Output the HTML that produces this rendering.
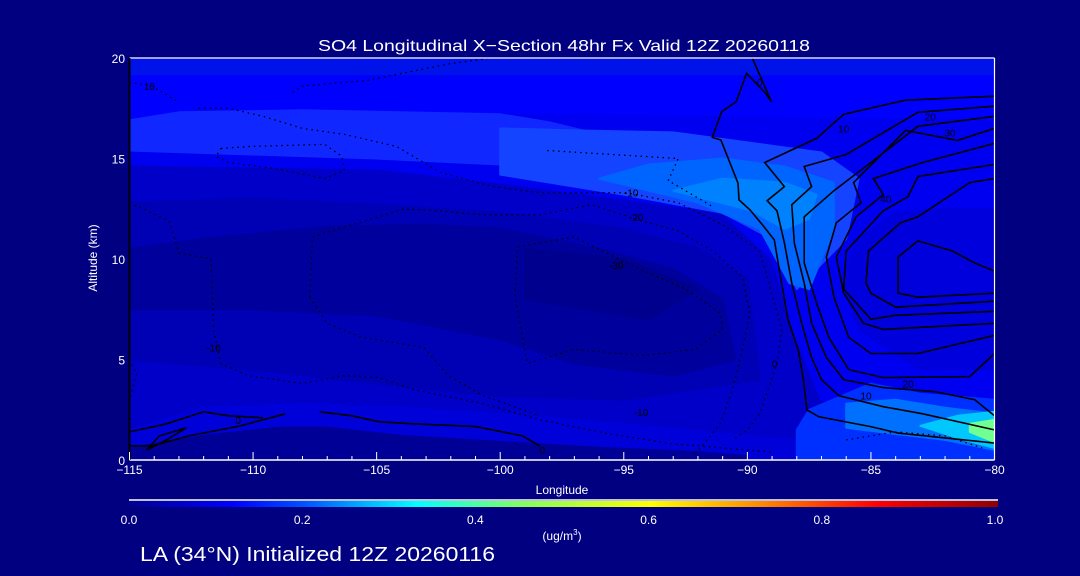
<!DOCTYPE html>
<html><head><meta charset="utf-8"><style>
html,body{margin:0;padding:0;background:#000080;width:1080px;height:576px;overflow:hidden}
svg{display:block}
text{font-family:"Liberation Sans",sans-serif;fill:#fff}
</style></head><body>
<svg id="c" width="1080" height="576" xmlns="http://www.w3.org/2000/svg">
<defs>
<linearGradient id="cb" x1="0" x2="1" y1="0" y2="0">
<stop offset="0" stop-color="#000090"/><stop offset="0.12" stop-color="#0000ff"/><stop offset="0.2" stop-color="#0050ff"/>
<stop offset="0.33" stop-color="#00ffff"/><stop offset="0.45" stop-color="#80ff60"/><stop offset="0.6" stop-color="#ffff00"/>
<stop offset="0.72" stop-color="#ff9000"/><stop offset="0.86" stop-color="#ff0000"/><stop offset="1" stop-color="#900000"/>
</linearGradient>
<clipPath id="pc"><rect x="129.5" y="58" width="865" height="402"/></clipPath>
</defs>
<text x="318" y="51" font-size="16" textLength="492" lengthAdjust="spacingAndGlyphs">SO4 Longitudinal X−Section 48hr  Fx Valid 12Z 20260118</text>
<g id="fills" clip-path="url(#pc)"></g>
<g id="contours" clip-path="url(#pc)"></g>
<g id="axes"></g>
<text x="562" y="494" font-size="12" text-anchor="middle">Longitude</text>
<text transform="translate(97,258) rotate(-90)" font-size="12" text-anchor="middle">Altitude (km)</text>
<line x1="129" y1="500" x2="998" y2="500" stroke="#fff" stroke-width="1.5"/>
<rect x="129" y="501" width="869" height="6" fill="url(#cb)"/>
<g id="cbl"></g>
<text x="562" y="540" font-size="12" text-anchor="middle">(ug/m<tspan font-size="8" dy="-5">3</tspan><tspan dy="5">)</tspan></text>
<text x="140" y="561" font-size="20" textLength="355" lengthAdjust="spacingAndGlyphs">LA (34°N) Initialized 12Z 20260116</text>
</svg>
<script>
const xTicks=[-115,-110,-105,-100,-95,-90,-85,-80];
const yTicks=[0,5,10,15,20];
const cbTicks=[0.0,0.2,0.4,0.6,0.8,1.0];
const fillColors=['#0000c8','#0000f0','#0000ff','#0012ea','#1028ff','#1444ff','#0064ff','#0082ff','#0000dc','#0000b4','#00009c','#00008e','#0000d8','#000096','#0030ff','#0070ff','#00c8ff','#70ff90'];
const fillShapes=[
[[-115,0],[-80,0],[-80,20],[-115,20]],
[[-115,20],[-80,20],[-80,2],[-84,2.5],[-87,3],[-88,6],[-89,10],[-91,12.3],[-95,13],[-100,13.8],[-105,14.5],[-115,14.7]],
[[-115,19.2],[-80,19.2],[-80,17],[-100,17.3],[-115,16.8]],
[[-115,20],[-80,20],[-80,19.2],[-115,19.2]],
[[-115,16.9],[-113,17.3],[-108,17.4],[-100,17.2],[-98,16.8],[-96,16.2],[-97,14.8],[-100,14.7],[-105,15],[-115,15.4]],
[[-100,16.5],[-97,16.4],[-93,16.3],[-90,15.8],[-87,15.3],[-85.5,14],[-86,11],[-88,8.5],[-89,11],[-91,12.3],[-95,13.2],[-100,14.2]],
[[-96,14],[-94,14.7],[-91,15],[-88.5,14.6],[-86.5,13.8],[-86.5,11.5],[-87.5,8.5],[-88.3,8.8],[-89.5,11.5],[-92,12.8]],
[[-93,13.4],[-91,14],[-88.5,13.8],[-87.2,13.2],[-87.5,12],[-88.5,11.5],[-89.8,12.4]],
[[-85.5,11],[-84,12.3],[-82,12.5],[-80,12.5],[-80,4.5],[-83,4.5],[-85.5,6.5],[-86.2,9]],
[[-115,12.8],[-110,13],[-105,12.7],[-100,12.3],[-95,11.5],[-92,10.5],[-90,9],[-89.5,4],[-95,3],[-100,3.2],[-105,3.8],[-110,4.5],[-115,5]],
[[-115,10.5],[-112,11],[-107,11.6],[-103,11.7],[-100,11.5],[-96,10.5],[-93,9.5],[-91,8],[-90.5,5],[-93,4.2],[-97,4.8],[-100,6],[-105,7.2],[-110,7.5],[-115,7.5]],
[[-99,10.5],[-95,10],[-92,8.5],[-94,7],[-99,8]],
[[-115,1.5],[-112,2.6],[-108,2.8],[-104,2.6],[-100,2.3],[-95,1.8],[-90,1.2],[-88,1],[-88,0],[-115,0]],
[[-115,0],[-115,0.6],[-112,1.2],[-109,1.6],[-107,1.6],[-104,1.2],[-100,0.9],[-96,0.6],[-92,0.4],[-90,0.2],[-90,0]],
[[-87.5,2.5],[-85,3.8],[-83,3.3],[-80,3],[-80,0],[-88,0],[-88,1.5]],
[[-86,2.8],[-84,3],[-82,2.6],[-80,2.3],[-80,0.5],[-82,1],[-84,1.3],[-86,1.6]],
[[-83,1.7],[-81.5,2.2],[-80,2.4],[-80,0.6],[-81.5,1.1]],
[[-81,1.8],[-80,2],[-80,0.9],[-81,1.4]]
];
const solidLines=[
[[-89.79,19.98],[-89.03,17.83],[-89.3,18.3],[-90.03,19.24],[-90.45,17.83],[-91.04,17.33],[-91.42,16.05],[-91.07,15.92],[-90.38,13.77],[-90.34,12.94],[-89.89,12.44],[-89.33,11.61],[-88.91,10.95],[-88.64,8.96],[-88.35,6.97],[-87.94,5.47],[-87.73,3.98],[-87.59,2.49],[-87.1,2.15],[-85.01,1.66],[-83.9,1.34],[-80,0.84]],
[[-80,18.1],[-83.6,17.9],[-86.1,17.2],[-87.2,16],[-89.3,14.8],[-88.5,13.6],[-89.2,12.9],[-88.8,12.4],[-88.5,10.8],[-88.2,8.8],[-87.8,6.8],[-87.4,5.1],[-87,4],[-86.3,3.2],[-84.5,2.65],[-82.9,2.3],[-80,1.5]],
[[-80,17.6],[-83.1,17.3],[-86,15.2],[-87.7,14.6],[-87.4,13.6],[-88.2,12.7],[-88.1,10.8],[-87.7,8.8],[-87.4,6.8],[-86.8,5.1],[-86.1,4],[-84.5,3.6],[-82.4,3.4],[-80.8,3],[-80,2.2]],
[[-80,17.1],[-83.1,16.6],[-85,14.8],[-86.5,13.4],[-87.7,12.1],[-87.7,9.8],[-87.2,7.8],[-86.7,6.1],[-85.9,4.5],[-84.5,4.1],[-81,4.15],[-80,5.3]],
[[-80,16.5],[-81.5,15.9],[-83.6,16.4],[-85.7,13.8],[-85.4,12.8],[-86.4,11.8],[-86.8,10.1],[-86.5,8.1],[-85.9,6.1],[-85,5.3],[-83.1,5.3],[-80,6.2]],
[[-80,15.75],[-82.9,14.8],[-84.9,14],[-84.5,13.2],[-85.6,12.1],[-86.4,10.1],[-86.1,8.3],[-85.3,6.8],[-84.5,6.5],[-80,6.8]],
[[-80,14.7],[-82.1,14.3],[-83.1,14.1],[-83.5,13.1],[-84.5,12.4],[-86,10.4],[-86.1,8.5],[-85,7],[-84,7.2],[-80,7.4]],
[[-80,14],[-81,13.8],[-83.1,12.1],[-83.8,11.8],[-85.1,10.4],[-85.2,8.8],[-85,8.3],[-84,7.6],[-80,7.9]],
[[-83.1,10.9],[-83.9,10.1],[-83.9,8.3],[-83.1,8.1],[-80,8.3],[-80,9.4],[-80.8,9.8],[-81.7,10.4],[-83.1,10.9]],
[[-115,1.4],[-113.5,1.8],[-112,2.4],[-111,2.2],[-109.6,2.1]],
[[-115,0.7],[-114.1,0.7],[-112.6,1.2],[-110.5,1.7],[-108.7,2.3]],
[[-107.3,2.4],[-106,2.2],[-104.9,1.9],[-103.5,1.8],[-101,1.66],[-99.1,1.2],[-98.4,0.7]],
[[-114.3,0.5],[-113.8,1.2],[-112.7,1.6],[-113.5,1.0],[-114.3,0.5]]
];
const dottedLines=[
[[-115,18.8],[-114.1,18.6],[-113,17.8]],
[[-112.2,17.5],[-111,17.5],[-109.6,17.1],[-108,16.5],[-106.3,16.2],[-104.2,15.6],[-102.4,14.3],[-100.3,13.6],[-98.4,13.3],[-94.9,13.3],[-92.8,12.8],[-91,11.7],[-89.5,10.4],[-88.6,6.5],[-88.8,4.8],[-89.5,2.3],[-90,1.5],[-90.6,1]],
[[-108.4,18.3],[-108,18.6],[-105.3,18.9],[-102.1,19.7],[-100.4,20]],
[[-111.3,15.5],[-110.1,15.6],[-107.1,15.7],[-106.4,15.1],[-106.3,14.4],[-107.1,14],[-109.1,14.5],[-111,14.8],[-111.5,15.1],[-111.3,15.5]],
[[-98.1,15.4],[-92.8,15],[-93.2,13.9],[-91.4,12.6]],
[[-115,12.8],[-113.4,11.9],[-113,10.3],[-111.7,10],[-111.6,6.5],[-111.3,4.8],[-110.2,4.2],[-108,3.8],[-106.3,4.2],[-104.9,4.1],[-103.5,3.5],[-100.7,2.8],[-98.4,2],[-95.6,1.3],[-93,0.8],[-89,0.4]],
[[-107.7,8.1],[-107.6,11.1],[-106.3,11.6],[-104.9,12.1],[-103.9,12.5],[-102.5,12.4],[-100.7,12.2],[-98.4,12.2],[-96.3,12.7],[-94.3,11.9],[-92.8,11.4],[-91.4,10.4],[-90.2,9.1],[-89.9,7.3],[-90.2,5.5],[-90.6,3.5],[-91.1,1.8],[-92.1,0.3]],
[[-107.7,8.1],[-107,6.8],[-105.6,6.1],[-103.1,5.6],[-102.1,4.2],[-100.7,3.2],[-98.4,2.2]],
[[-98.4,10.8],[-97,11.1],[-94.9,9.8],[-92.5,8.5],[-91.1,7.3],[-91,6.5],[-92.1,5.5],[-94.2,5.2],[-97,5.5],[-98.9,4.8],[-99.4,8.1],[-99.3,10.6],[-98.4,10.8]],
[[-115,5],[-114.7,4.3],[-115,3]],
[[-86,1],[-84,1.4],[-82,1.2],[-80.5,0.6]]
];
const contourLabels=[['10',-114.2,18.4],['0',-89.5,18.6],['10',-86.1,16.3],['20',-82.6,16.9],['30',-81.8,16.1],['40',-84.4,12.8],['-10',-94.7,13.1],['-20',-94.5,11.9],['-30',-95.3,9.5],['-10',-111.6,5.4],['-10',-94.3,2.2],['0',-88.9,4.6],['20',-83.5,3.6],['10',-85.2,3.0],['0',-110.6,1.8],['0',-98.3,0.3]];
const NS='http://www.w3.org/2000/svg';
const X=l=>129.5+(l+115)/35*865, Y=a=>460-a/20*402;
const pts=p=>p.map(q=>X(q[0]).toFixed(1)+','+Y(q[1]).toFixed(1)).join(' ');
function mk(t,parent,attrs){const e=document.createElementNS(NS,t);for(const k in attrs)e.setAttribute(k,attrs[k]);parent.appendChild(e);return e;}
const F=document.getElementById('fills');
fillShapes.forEach((s,i)=>{const e=mk('polygon',F,{points:pts(s),fill:fillColors[i],stroke:fillColors[i],'stroke-width':2,'stroke-linejoin':'round'});

});
const C=document.getElementById('contours');
solidLines.forEach(s=>{const e=mk('polyline',C,{points:pts(s),fill:'none',stroke:'#000','stroke-width':1.6});

});
dottedLines.forEach(s=>{const e=mk('polyline',C,{points:pts(s),fill:'none',stroke:'#000','stroke-width':1.3,'stroke-dasharray':'1.5 4'});

});
contourLabels.forEach(c=>{const e=mk('text',C,{x:X(c[1]),y:Y(c[2]),'font-size':10,'text-anchor':'middle',style:'fill:#000'});e.textContent=c[0];

});
const A=document.getElementById('axes');
mk('line',A,{x1:129.5,y1:58,x2:994.5,y2:58,stroke:'#fff','stroke-width':1.2});
mk('line',A,{x1:994.5,y1:58,x2:994.5,y2:460,stroke:'#fff','stroke-width':1.2});
mk('line',A,{x1:129.5,y1:460,x2:994.5,y2:460,stroke:'#fff','stroke-width':1.5});
mk('line',A,{x1:129.5,y1:58,x2:129.5,y2:460,stroke:'#000','stroke-width':2});
for(let l=-115;l<=-80;l++){const major=(l%5===0);mk('line',A,{x1:X(l),y1:460,x2:X(l),y2:major?452:456,stroke:'#fff','stroke-width':1});}
xTicks.forEach(l=>{const e=mk('text',A,{x:X(l),y:474,'font-size':12,'text-anchor':'middle'});e.textContent=(l<0?'−'+(-l):l);

});
yTicks.forEach(a=>{const e=mk('text',A,{x:125,y:Y(a)+5,'font-size':12,'text-anchor':'end'});e.textContent=a;

});
const CB=document.getElementById('cbl');
cbTicks.forEach(v=>{const e=mk('text',CB,{x:129+v*866,y:524,'font-size':12,'text-anchor':'middle'});e.textContent=v.toFixed(1);

});
</script>
</body></html>
